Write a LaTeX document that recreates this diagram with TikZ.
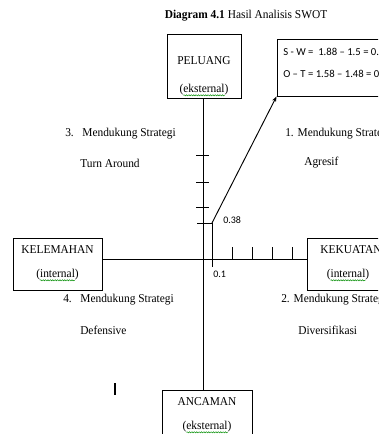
\documentclass[tikz,border=0pt]{standalone}
\usepackage{fontspec}
\setmainfont{Liberation Serif}[FakeStretch=0.95]
\newfontfamily\calfont{Carlito}
\usetikzlibrary{arrows.meta,positioning,calc,decorations.pathmorphing}
\tikzset{
  blk/.style={draw,rectangle,line width=0.7pt,inner sep=0pt},
  lbl/.style={inner sep=0pt,font=\fontsize{9}{11}\selectfont},
  qlbl/.style={lbl,anchor=west},
  numlbl/.style={inner sep=0pt,anchor=west,font=\calfont\fontsize{7.5}{9}\selectfont},
  axis/.style={line width=0.7pt},
  tick/.style={line width=0.7pt},
  arr/.style={-{Stealth[length=4pt,width=3pt]},line width=0.7pt},
  squig/.style={green!55!black,line width=0.35pt,decorate,
    decoration={snake,amplitude=0.45pt,segment length=1.8pt}}
}
\begin{document}
\begin{tikzpicture}[x=0.75pt,y=-0.75pt]
  \useasboundingbox (0,0) rectangle (378,434);
  \clip (0,0) rectangle (378,434);

  % title
  \node[lbl] (title) at (246,16) {\textbf{Diagram 4.1} Hasil Analisis SWOT};

  % boxes
  \node[blk, minimum width=55.5pt, minimum height=48pt] (pel) at (204,66) {};
  \node[blk, minimum width=67.5pt, minimum height=48pt] (anc) at (207,422) {};
  \node[blk, minimum width=66.75pt, minimum height=39pt] (kel) at (57.5,264) {};
  \node[blk, minimum width=64.5pt, minimum height=39pt] (kek) at (350,264) {};
  \node[blk, minimum width=92.25pt, minimum height=42.75pt] (res) at (338.5,67.5) {};

  \node[lbl] (pelA) at (204,61) {PELUANG};
  \node[lbl] (pelB) at (204,90) {(eksternal)};
  \node[lbl] (ancA) at (207,402) {ANCAMAN};
  \node[lbl] (ancB) at (207,427) {(eksternal)};
  \node[lbl] (kelA) at (57.5,250) {KELEMAHAN};
  \node[lbl] (kelB) at (57.5,275) {(internal)};
  \node[lbl] (kekA) at (351,250) {KEKUATAN};
  \node[lbl] (kekB) at (348,275) {(internal)};
  \foreach \t in {pelB,ancB,kelB,kekB}
    \draw[squig] ($(\t.south west)+(3pt,0.3pt)$) -- ($(\t.south east)+(-3pt,0.3pt)$);

  \node[numlbl, font=\calfont\fontsize{8}{10}\selectfont] (sw) at (283,52) {S - W =\ \ 1.88 – 1.5 = 0.38};
  \node[numlbl, font=\calfont\fontsize{8}{10}\selectfont] (ot) at (283,74) {O – T = 1.58 – 1.48 = 0.1};

  % quadrant labels
  \node[qlbl] (q3a) at (65,134) {3.\ \ \ Mendukung Strategi};
  \node[qlbl] (q3b) at (80,163) {Turn Around};
  \node[qlbl] (q1a) at (285,134) {1. Mendukung Strategi};
  \node[qlbl] (q1b) at (304,163) {Agresif};
  \node[qlbl] (q4a) at (63,300) {4.\ \ \ Mendukung Strategi};
  \node[qlbl] (q4b) at (80,330) {Defensive};
  \node[qlbl] (q2a) at (281,300) {2. Mendukung Strategi};
  \node[qlbl] (q2b) at (298,330) {Diversifikasi};

  % axes
  \coordinate (o) at (203,259);
  \draw[axis] (o |- pel.south) -- (o |- anc.north);
  \draw[axis] (kel.east |- o) -- (kek.west |- o);
  \foreach \y in {155,182,207}
    \draw[tick] (196,\y) -- (209,\y);
  \foreach \x in {232,252,272,292}
    \draw[tick] (\x,247) -- (\x,259);

  % result point
  \coordinate (p) at (212,223);
  \draw[tick] (197,223) -- (p) -- (212,267);
  \draw[arr] (p) -- (res.south west);
  \node[numlbl] (v38) at (223,220) {0.38};
  \node[numlbl] (v01) at (213,274) {0.1};

  \draw[line width=1pt] (115,383) -- (115,395);
\end{tikzpicture}
\end{document}
